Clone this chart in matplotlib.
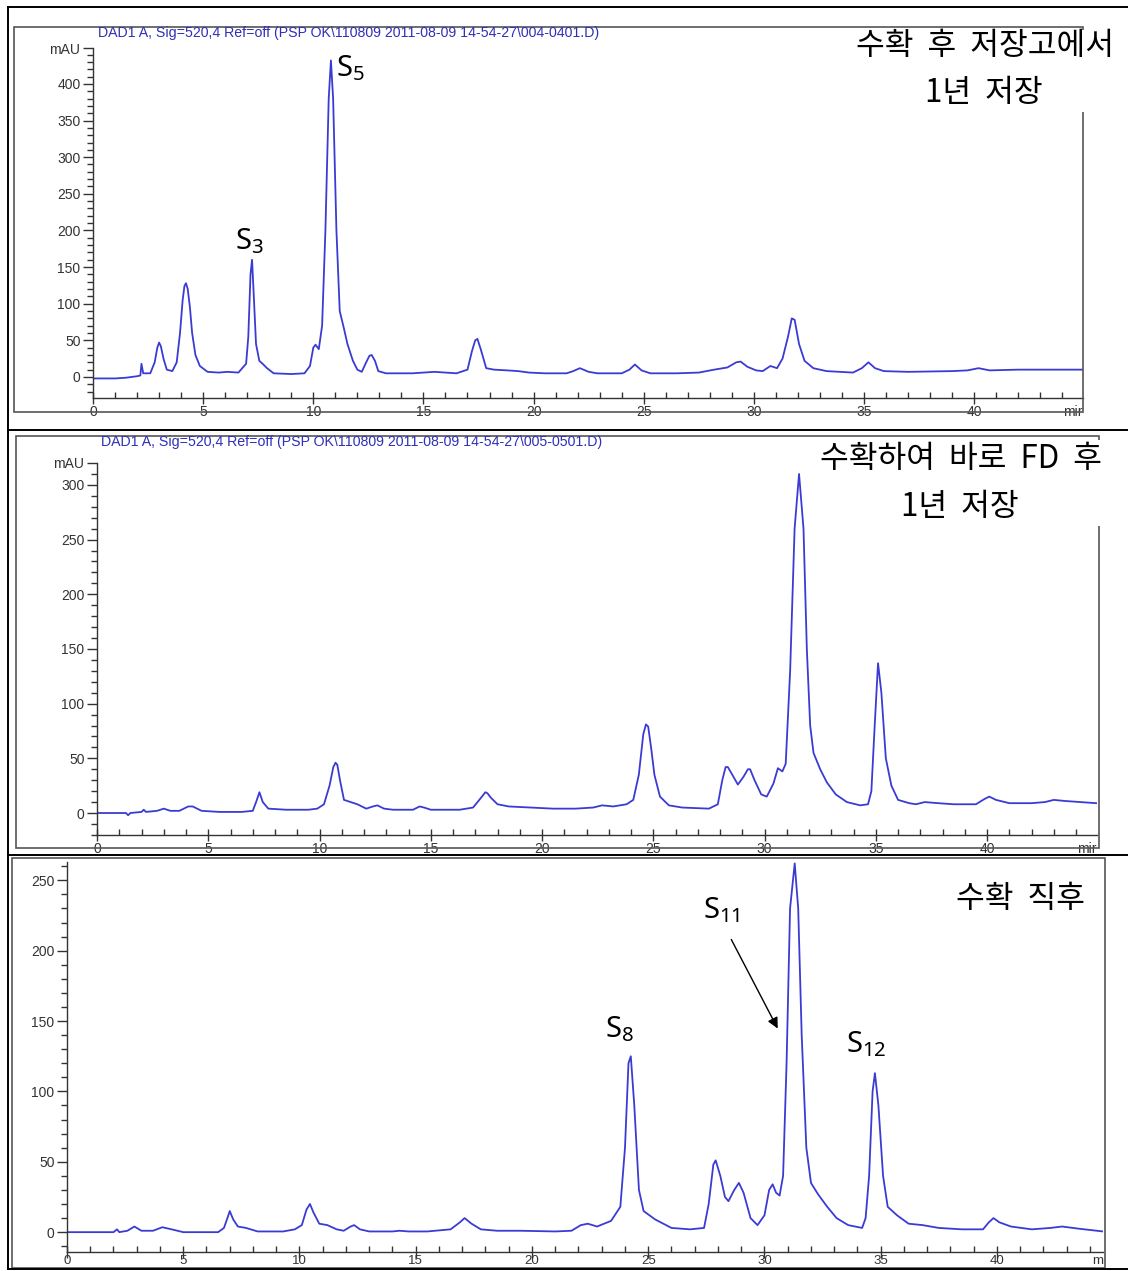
import matplotlib
matplotlib.use("Agg")
import matplotlib.pyplot as plt
from matplotlib.lines import Line2D
from matplotlib.patches import Rectangle, FancyArrowPatch
from matplotlib.ticker import MultipleLocator

W, H = 1128, 1271

plt.rcParams['font.family'] = ['Liberation Sans', 'DejaVu Sans']
plt.rcParams['mathtext.fontset'] = 'custom'
plt.rcParams['mathtext.rm'] = 'Noto Sans'
plt.rcParams['mathtext.it'] = 'Noto Sans'

# ---- chromatogram traces (retention time in min, absorbance in mAU) ----
t1 = [0, 1.0, 1.5, 2.0, 2.15, 2.2, 2.28, 2.6, 2.8, 2.92, 3.0, 3.08, 3.2, 3.35, 3.6, 3.8, 3.95,
      4.07, 4.15, 4.22, 4.3, 4.4, 4.5, 4.65, 4.85, 5.2, 5.7, 6.1, 6.6, 6.95, 7.05, 7.15, 7.22,
      7.3, 7.4, 7.55, 7.7, 7.9, 8.2, 9.0, 9.6, 9.85, 10.0, 10.1, 10.25, 10.4, 10.55, 10.7,
      10.8, 10.9, 11.05, 11.2, 11.4, 11.55, 11.8, 12.0, 12.2, 12.4, 12.55, 12.65, 12.8, 12.95,
      13.3, 14.5, 15.5, 16.5, 17.0, 17.2, 17.35, 17.45, 17.6, 17.85, 18.2, 18.8, 19.3, 19.8,
      20.5, 21.5, 21.8, 22.1, 22.5, 22.9, 24.0, 24.35, 24.6, 24.9, 25.3, 26.5, 27.5, 28.2,
      28.8, 29.2, 29.4, 29.7, 30.1, 30.4, 30.75, 31.05, 31.3, 31.55, 31.72, 31.85, 32.05,
      32.3, 32.7, 33.3, 34.5, 34.9, 35.2, 35.5, 35.9, 37.0, 39.0, 39.7, 40.2, 40.7, 42.0, 44.9]
a1 = [-2, -2, -1, 1, 2, 18, 5, 5, 20, 40, 47, 42, 25, 10, 8, 20, 60,
      105, 124, 128, 120, 95, 60, 30, 15, 7, 6, 7, 6, 18, 55, 140, 160,
      110, 45, 22, 18, 12, 5, 4, 5, 15, 40, 44, 38, 70, 200, 380,
      432, 380, 200, 90, 65, 45, 22, 10, 7, 20, 29, 30, 22, 8,
      5, 5, 7, 5, 10, 35, 50, 52, 38, 12, 10, 9, 8, 6,
      5, 5, 8, 12, 7, 5, 5, 10, 17, 9, 5, 5, 6, 10,
      13, 20, 21, 14, 9, 8, 15, 12, 25, 55, 80, 78, 45,
      22, 12, 8, 6, 12, 20, 12, 8, 7, 8, 9, 12, 9, 10, 10]

t2 = [0, 1.3, 1.4, 1.5, 2.0, 2.1, 2.2, 2.7, 3.0, 3.3, 3.7, 4.1, 4.3, 4.7, 5.5, 6.5, 7.0,
      7.15, 7.3, 7.45, 7.7, 8.5, 9.5, 9.9, 10.2, 10.45, 10.62, 10.72, 10.8, 10.92, 11.1, 11.4,
      11.7, 12.1, 12.4, 12.6, 12.9, 13.3, 14.2, 14.5, 14.7, 15.0, 16.3, 16.9, 17.3, 17.45,
      17.55, 17.7, 18.0, 18.5, 19.5, 20.5, 21.5, 22.3, 22.7, 23.2, 23.8, 24.1, 24.35, 24.55,
      24.67, 24.77, 24.9, 25.05, 25.3, 25.7, 26.3, 27.5, 27.9, 28.1, 28.25, 28.35, 28.55,
      28.8, 29.05, 29.25, 29.35, 29.55, 29.85, 30.1, 30.4, 30.6, 30.8, 30.95, 31.15, 31.35,
      31.55, 31.75, 31.9, 32.05, 32.2, 32.5, 32.8, 33.2, 33.7, 34.3, 34.65, 34.8, 34.95,
      35.1, 35.25, 35.45, 35.7, 36.0, 36.5, 36.8, 37.2, 37.8, 38.5, 39.5, 39.9, 40.1, 40.4,
      41.0, 42.0, 42.6, 43.0, 43.5, 44.9]
a2 = [0, 0, -2, 0, 1, 3, 1, 2, 4, 2, 2, 6, 6, 2, 1, 1, 2,
      10, 19, 10, 4, 3, 3, 4, 8, 25, 42, 46, 44, 30, 12, 10,
      8, 4, 6, 7, 4, 3, 3, 6, 5, 3, 3, 5, 15, 19,
      18, 14, 8, 6, 5, 4, 4, 5, 7, 6, 8, 12, 35, 72,
      81, 79, 60, 35, 15, 7, 5, 4, 8, 30, 42, 42, 35,
      26, 33, 40, 40, 30, 17, 15, 27, 41, 38, 45, 130, 260,
      310, 260, 150, 80, 55, 40, 28, 17, 10, 7, 8, 20, 80,
      137, 110, 50, 25, 12, 9, 8, 10, 9, 8, 8, 13, 15, 12,
      9, 9, 10, 12, 11, 9]

t3 = [0, 1.5, 2.0, 2.15, 2.25, 2.6, 2.9, 3.2, 3.7, 4.1, 4.5, 5.0, 6.5, 6.75, 6.9, 7.0, 7.15,
      7.35, 7.7, 8.2, 9.3, 9.8, 10.1, 10.3, 10.45, 10.6, 10.85, 11.2, 11.6, 11.9, 12.2, 12.35,
      12.6, 13.0, 14.0, 14.3, 14.7, 15.5, 16.5, 16.9, 17.1, 17.4, 17.8, 18.5, 19.5, 21.0,
      21.7, 22.1, 22.4, 22.8, 23.4, 23.8, 24.0, 24.15, 24.25, 24.4, 24.6, 24.8, 25.3, 26.0,
      26.8, 27.4, 27.6, 27.8, 27.9, 28.1, 28.3, 28.45, 28.7, 28.9, 29.1, 29.4, 29.7, 30.0,
      30.2, 30.35, 30.5, 30.65, 30.8, 30.95, 31.1, 31.3, 31.45, 31.6, 31.8, 32.0, 32.3, 32.7,
      33.1, 33.6, 34.2, 34.35, 34.5, 34.65, 34.75, 34.9, 35.1, 35.3, 35.7, 36.2, 36.8, 37.5,
      38.5, 39.4, 39.65, 39.85, 40.1, 40.6, 41.5, 42.3, 42.8, 43.5, 44.56]
a3 = [0, 0, 0, 2, 0, 1, 4, 1, 1, 3.5, 2, 0, 0, 3, 10, 15, 9,
      4, 3, 0.5, 0.5, 2, 5, 16, 20, 14, 6, 5, 2, 1, 4, 5,
      2, 0.5, 0.5, 1, 0.5, 0.5, 2, 7, 10, 6, 2, 1, 1, 0.5,
      1, 5, 6, 4, 8, 18, 60, 120, 125, 90, 30, 15, 9, 3,
      2, 3, 20, 48, 51, 40, 25, 22, 30, 35, 28, 10, 5, 12,
      30, 34, 28, 26, 40, 120, 230, 262, 230, 140, 60, 35, 27, 18,
      10, 5, 3, 10, 40, 100, 113, 90, 40, 18, 12, 6, 5, 3,
      2, 2, 7, 10, 7, 4, 2, 3, 4, 2.5, 0.5]

x_ticks = [0, 5, 10, 15, 20, 25, 30, 35, 40]
x_ticklabels = ['0', '5', '10', '15', '20', '25', '30', '35', '40']
y1_ticks = [0, 50, 100, 150, 200, 250, 300, 350, 400]
y2_ticks = [0, 50, 100, 150, 200, 250, 300]
y3_ticks = [0, 50, 100, 150, 200, 250]

header1 = r'DAD1 A, Sig=520,4 Ref=off (PSP OK\110809 2011-08-09 14-54-27\004-0401.D)'
header2 = r'DAD1 A, Sig=520,4 Ref=off (PSP OK\110809 2011-08-09 14-54-27\005-0501.D)'
caption1 = ['수확  후  저장고에서', '1년  저장']
caption2 = ['수확하여  바로  FD  후', '1년  저장']
caption3 = ['수확  직후']

TRACE = '#3b3bd4'
AXC = '#333333'
KFONT = ['Noto Sans CJK KR', 'DejaVu Sans']
TICKSIZE = 10

fig = plt.figure(figsize=(W / 100, H / 100), dpi=100)
fig.patch.set_facecolor('white')


def fx(x):
    return x / W


def fy(y):
    return 1 - y / H


def hline(x0, x1, y, color='black', lw=1.4):
    fig.add_artist(Line2D([fx(x0), fx(x1)], [fy(y), fy(y)], color=color, lw=lw,
                          transform=fig.transFigure))


def vline(x, y0, y1, color='black', lw=1.4):
    fig.add_artist(Line2D([fx(x), fx(x)], [fy(y0), fy(y1)], color=color, lw=lw,
                          transform=fig.transFigure))


def box(x0, y0, x1, y1, color='#555555', lw=1.2, fill=False, z=1):
    fig.add_artist(Rectangle((fx(x0), fy(y1)), fx(x1 - x0), (y1 - y0) / H, fill=fill,
                             facecolor='white', edgecolor=color if not fill else 'none',
                             lw=lw, transform=fig.transFigure, zorder=z))


# outer frame of the three stacked panels
hline(8, W, 7)
hline(8, W, 430)
hline(8, W, 855)
hline(8, W, 1269)
vline(8, 7, 1269)

# inner instrument-report frames
box(14, 27, 1083, 412)
box(16, 436, 1099, 848)
box(12, 858, 1105, 1268)

# white text boxes holding the sample captions
box(848, 30, 1124, 112, fill=True, z=3)
box(812, 440, 1112, 526, fill=True, z=3)


def chrom_axes(px, t, a, yticks, ymin, ymax, xmax, top_label, xlabel_text,
               xpad=1, xsize=TICKSIZE):
    x0, ytop, x1, ybot = px
    ax = fig.add_axes([fx(x0), fy(ybot), fx(x1 - x0), (ybot - ytop) / H])
    ax.patch.set_alpha(0)
    ax.plot(t, a, color=TRACE, lw=1.3, solid_joinstyle='round')
    ax.set_xlim(0, xmax)
    ax.set_ylim(ymin, ymax)
    for s in ('top', 'right'):
        ax.spines[s].set_visible(False)
    for s in ('left', 'bottom'):
        ax.spines[s].set_color(AXC)
        ax.spines[s].set_linewidth(1.0)
    if top_label:
        ax.set_yticks(yticks + [ymax])
        ax.set_yticklabels([str(v) for v in yticks] + [top_label])
    else:
        ax.set_yticks(yticks)
        ax.set_yticklabels([str(v) for v in yticks])
    ax.yaxis.set_minor_locator(MultipleLocator(10))
    ax.set_xticks(x_ticks)
    ax.set_xticklabels(x_ticklabels)
    ax.xaxis.set_minor_locator(MultipleLocator(1))
    ax.tick_params(axis='y', which='major', direction='out', length=7, width=1,
                   color=AXC, labelsize=TICKSIZE, labelcolor=AXC, pad=2)
    ax.tick_params(axis='y', which='minor', direction='out', length=4, width=1, color=AXC)
    ax.tick_params(axis='x', which='major', direction='inout', length=8, width=1,
                   color=AXC, labelsize=xsize, labelcolor=AXC, pad=xpad)
    ax.tick_params(axis='x', which='minor', direction='in', length=4, width=1, color=AXC)
    ax.annotate(xlabel_text, xy=(1.0, 0), xycoords='axes fraction',
                xytext=(0, -4 - xpad), textcoords='offset points',
                ha='right', va='top', fontsize=xsize, color=AXC)
    return ax


ax1 = chrom_axes((93, 48, 1083, 398), t1, a1, y1_ticks, -28.7, 449, 44.94, 'mAU', 'mir')
ax2 = chrom_axes((97, 463, 1097, 835), t2, a2, y2_ticks, -20.1, 320, 44.94, 'mAU', 'mir')
ax3 = chrom_axes((67, 862, 1103, 1252), t3, a3, y3_ticks, -14.1, 263, 44.56, None, 'm',
                 xpad=-1.5, xsize=9.5)

# report headers
fig.text(fx(98), fy(33), header1, color='#2f2fb8', fontsize=10.2, va='center', ha='left')
fig.text(fx(101), fy(442), header2, color='#2f2fb8', fontsize=10.2, va='center', ha='left')

# sample condition captions
CAP = dict(family=KFONT, fontsize=22.5, ha='center', va='center', zorder=5)
fig.text(fx(985), fy(46), caption1[0], **CAP)
fig.text(fx(984), fy(93), caption1[1], **CAP)
fig.text(fx(961), fy(459), caption2[0], **CAP)
fig.text(fx(960), fy(507), caption2[1], **CAP)
fig.text(fx(1020), fy(899), caption3[0], **CAP)

# peak labels
LBL = dict(family=['Noto Sans', 'DejaVu Sans'], fontsize=21, ha='left', va='center')
fig.text(fx(336), fy(68), r'S$_5$', **LBL)
fig.text(fx(235), fy(241), r'S$_3$', **LBL)
fig.text(fx(605), fy(1029), r'S$_8$', **LBL)
fig.text(fx(703), fy(910), r'S$_{11}$', **LBL)
fig.text(fx(846), fy(1044), r'S$_{12}$', **LBL)

fig.add_artist(FancyArrowPatch((fx(730), fy(937)), (fx(779), fy(1031)),
                               transform=fig.transFigure, arrowstyle='-|>',
                               mutation_scale=16, lw=1.0, color='black'))

fig.savefig('out.png', dpi=100, facecolor='white')
